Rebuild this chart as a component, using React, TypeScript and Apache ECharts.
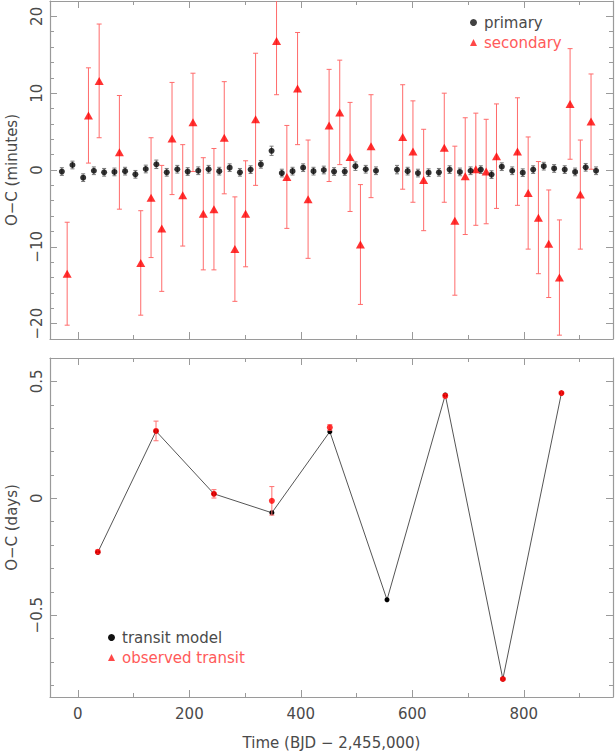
import React, { useEffect, useRef } from 'react';
import * as echarts from 'echarts';

// ---------- top panel: primary eclipses ----------
const primTime = [-28.7, -9.7, 9.5, 28.7, 47.1, 65.6, 84.7, 103.2, 121.8, 140.8, 159.4, 178.4, 197.0, 216.0, 234.6, 253.6, 272.3, 290.7, 309.9, 328.3, 347.5, 365.9, 385.1, 404.1, 422.7, 441.2, 459.6, 478.8, 497.9, 516.4, 534.8, 572.5, 591.6, 610.1, 629.2, 647.7, 666.9, 685.3, 704.5, 722.9, 742.1, 760.5, 779.2, 798.1, 816.8, 835.8, 854.4, 873.4, 892.0, 911.0, 929.6];
const primOC = [-0.2, 0.65, -1.0, -0.1, -0.3, -0.25, -0.15, -0.56, 0.13, 0.74, -0.3, 0.1, -0.2, -0.1, 0.1, -0.15, 0.3, -0.3, 0.05, 0.74, 2.5, -0.4, -0.15, 0.3, -0.15, 0.0, -0.2, -0.2, 0.5, 0.1, -0.1, 0.05, -0.15, -0.4, -0.35, -0.3, 0.05, -0.25, -0.1, 0.05, -0.6, 0.43, -0.1, -0.35, 0.05, 0.5, 0.2, 0.05, -0.25, 0.35, -0.1];
const primErr = [0.5, 0.5, 0.5, 0.5, 0.5, 0.5, 0.5, 0.5, 0.5, 0.55, 0.5, 0.5, 0.5, 0.5, 0.5, 0.5, 0.5, 0.5, 0.5, 0.5, 0.6, 0.5, 0.5, 0.5, 0.5, 0.5, 0.5, 0.5, 0.55, 0.5, 0.5, 0.55, 0.5, 0.5, 0.5, 0.5, 0.5, 0.5, 0.5, 0.5, 0.5, 0.5, 0.5, 0.5, 0.5, 0.5, 0.5, 0.5, 0.5, 0.5, 0.5];

// ---------- top panel: secondary eclipses ----------
const secTime = [-19.2, 19.0, 38.2, 74.5, 112.8, 131.3, 150.5, 168.9, 188.1, 206.5, 225.0, 244.1, 262.6, 281.7, 300.9, 318.8, 356.4, 374.9, 394.1, 413.0, 450.7, 469.8, 488.3, 506.9, 525.9, 582.7, 601.1, 620.3, 657.3, 676.3, 694.9, 713.9, 732.5, 751.0, 788.6, 807.8, 826.2, 844.7, 863.9, 883.0, 901.4, 920.6];
const secOC = [-13.5, 7.1, 11.6, 2.3, -12.1, -3.6, -7.6, 4.1, -3.3, 6.2, -5.7, -5.1, 4.2, -10.3, -5.7, 6.6, 16.8, -0.9, 10.6, -3.8, 5.8, 7.5, 1.7, -9.7, 3.1, 4.3, 2.4, -1.3, 2.9, -6.6, -0.8, 0.1, -0.2, 1.8, 2.4, -3.0, -6.2, -9.6, -14.0, 8.6, -3.2, 6.3];
const secErr = [6.7, 6.2, 7.4, 7.4, 6.8, 7.8, 8.2, 7.3, 6.6, 6.4, 7.3, 7.9, 7.3, 6.8, 6.9, 8.6, 7.0, 6.7, 7.3, 7.7, 7.3, 6.8, 7.1, 7.8, 6.7, 6.8, 6.6, 6.6, 7.1, 9.7, 7.6, 7.3, 6.8, 6.8, 7.0, 7.3, 7.3, 7.0, 7.5, 7.2, 7.1, 6.2];

// ---------- bottom panel ----------
const modelTime = [35.8, 140.2, 244.1, 348.0, 452.0, 554.6, 659.1, 762.4, 867.5];
const modelOC = [-0.231, 0.287, 0.019, -0.062, 0.285, -0.434, 0.442, -0.773, 0.450];
const obsTime = [35.8, 140.2, 244.1, 348.0, 452.0, 659.1, 762.4, 867.5];
const obsOC = [-0.229, 0.288, 0.019, -0.011, 0.303, 0.438, -0.773, 0.450];
const obsErr = [0.008, 0.042, 0.018, 0.061, 0.012, 0.008, 0.005, 0.005];

const X_MIN = -50;
const X_MAX = 960;
const TOP_Y = [-22, 22];
const BOT_Y = [-0.85, 0.6];

const FONT = 'DejaVu Sans';
const TXT = '#4a4a4a';
const FRAME = '#9a9a9a';

const fmtMinus = (s: string) => s.replace('-', '\u2212');

function errRenderer(color: string, cap: number) {
  return (params: any, api: any) => {
    const x = api.value(0);
    const lo = api.value(1);
    const hi = api.value(2);
    const a = api.coord([x, lo]);
    const b = api.coord([x, hi]);
    const st = { stroke: color, lineWidth: 1 };
    return {
      type: 'group',
      children: [
        { type: 'line', shape: { x1: a[0], y1: a[1], x2: b[0], y2: b[1] }, style: st },
        { type: 'line', shape: { x1: a[0] - cap, y1: a[1], x2: a[0] + cap, y2: a[1] }, style: st },
        { type: 'line', shape: { x1: b[0] - cap, y1: b[1], x2: b[0] + cap, y2: b[1] }, style: st },
      ],
    };
  };
}

function labelFmt(step: number) {
  return (v: number) => {
    const r = v / step;
    if (Math.abs(r - Math.round(r)) > 1e-6) return '';
    const val = Math.round(r) * step;
    return fmtMinus(String(Math.round(val * 1000) / 1000));
  };
}

function xAxes(grid: number, showLabels: boolean) {
  const base = {
    type: 'value',
    gridIndex: grid,
    min: X_MIN,
    max: X_MAX,
    splitLine: { show: false },
  };
  const major = {
    ...base,
    splitNumber: 5,
    axisTick: { show: true, inside: true, length: 7, lineStyle: { color: FRAME } },
  };
  const minor = {
    ...base,
    splitNumber: 10,
    axisLine: { show: false, onZero: false },
    axisLabel: { show: false },
    axisTick: { show: true, inside: true, length: 4, lineStyle: { color: FRAME } },
  };
  return [
    {
      ...major,
      position: 'bottom',
      axisLine: { show: true, onZero: false, lineStyle: { color: FRAME, width: 1.2 } },
      axisLabel: showLabels
        ? { show: true, formatter: labelFmt(200), color: TXT, fontFamily: FONT, fontSize: 15, margin: 9 }
        : { show: false },
      name: showLabels ? 'Time (BJD \u2212 2,455,000)' : '',
      nameLocation: 'middle',
      nameGap: 38,
      nameTextStyle: { color: TXT, fontFamily: FONT, fontSize: 15 },
    },
    {
      ...major,
      position: 'top',
      axisLine: { show: true, onZero: false, lineStyle: { color: FRAME, width: 1.2 } },
      axisLabel: { show: false },
    },
    { ...minor, position: 'bottom' },
    { ...minor, position: 'top' },
  ];
}

function yAxes(grid: number, ext: number[], majorSplit: number, minorSplit: number, step: number, name: string) {
  const base = {
    type: 'value',
    gridIndex: grid,
    min: ext[0],
    max: ext[1],
    splitLine: { show: false },
  };
  const major = {
    ...base,
    splitNumber: majorSplit,
    axisLine: { show: true, onZero: false, lineStyle: { color: FRAME, width: 1.2 } },
    axisTick: { show: true, inside: true, length: 7, lineStyle: { color: FRAME } },
  };
  const minor = {
    ...base,
    splitNumber: minorSplit,
    axisLine: { show: false, onZero: false },
    axisLabel: { show: false },
    axisTick: { show: true, inside: true, length: 4, lineStyle: { color: FRAME } },
  };
  return [
    {
      ...major,
      position: 'left',
      axisLabel: { show: true, rotate: 90, formatter: labelFmt(step), color: TXT, fontFamily: FONT, fontSize: 15, margin: 6 },
      name,
      nameLocation: 'middle',
      nameRotate: 90,
      nameGap: 31,
      nameTextStyle: { color: TXT, fontFamily: FONT, fontSize: 15 },
    },
    { ...major, position: 'right', axisLabel: { show: false } },
    { ...minor, position: 'left' },
    { ...minor, position: 'right' },
  ];
}

export default function App() {
  const ref = useRef<HTMLDivElement>(null);

  useEffect(() => {
    if (!ref.current) return;
    const chart = echarts.init(ref.current, undefined, { renderer: 'svg' });

    const primPts = primTime.map((t, i) => [t, primOC[i]]);
    const primBars = primTime.map((t, i) => [t, primOC[i] - primErr[i], primOC[i] + primErr[i]]);
    const secPts = secTime.map((t, i) => [t, secOC[i]]);
    const secBars = secTime.map((t, i) => [t, secOC[i] - secErr[i], secOC[i] + secErr[i]]);
    const modelPts = modelTime.map((t, i) => [t, modelOC[i]]);
    const obsPts = obsTime.map((t, i) => [t, obsOC[i]]);
    const obsBars = obsTime.map((t, i) => [t, obsOC[i] - obsErr[i], obsOC[i] + obsErr[i]]);

    const option: any = {
      animation: false,
      backgroundColor: '#ffffff',
      grid: [
        { left: 50, right: 2, top: 1, height: 338, containLabel: false, outerBoundsMode: 'none' },
        { left: 50, right: 2, top: 358, height: 339, containLabel: false, outerBoundsMode: 'none' },
      ],
      xAxis: [...xAxes(0, false), ...xAxes(1, true)],
      yAxis: [
        ...yAxes(0, TOP_Y, 4, 22, 10, 'O\u2212C (minutes)'),
        ...yAxes(1, BOT_Y, 3, 14, 0.5, 'O\u2212C (days)'),
      ],
      legend: [
        {
          orient: 'vertical',
          left: 465,
          top: 10,
          itemWidth: 7,
          itemHeight: 7,
          itemGap: 5,
          selectedMode: false,
          textStyle: { fontFamily: FONT, fontSize: 15, padding: [0, 0, 0, 2] },
          data: [
            { name: 'primary', icon: 'circle', itemStyle: { color: '#111' }, textStyle: { color: TXT } },
            { name: 'secondary', icon: 'triangle', itemStyle: { color: '#ff1a1a' }, textStyle: { color: '#ff5a5a' } },
          ],
        },
        {
          orient: 'vertical',
          left: 103,
          top: 625,
          itemWidth: 7,
          itemHeight: 7,
          itemGap: 5,
          selectedMode: false,
          textStyle: { fontFamily: FONT, fontSize: 15, padding: [0, 0, 0, 2] },
          data: [
            { name: 'transit model', icon: 'circle', itemStyle: { color: '#111' }, textStyle: { color: TXT } },
            { name: 'observed transit', icon: 'triangle', itemStyle: { color: '#ff1a1a' }, textStyle: { color: '#ff5a5a' } },
          ],
        },
      ],
      series: [
        {
          name: 'secErr',
          type: 'custom',
          xAxisIndex: 0,
          yAxisIndex: 0,
          clip: true,
          renderItem: errRenderer('#ff6b6b', 2.5),
          data: secBars,
          z: 2,
        },
        {
          name: 'primErr',
          type: 'custom',
          xAxisIndex: 0,
          yAxisIndex: 0,
          clip: true,
          renderItem: errRenderer('#777777', 2),
          data: primBars,
          z: 3,
        },
        {
          name: 'secondary',
          type: 'scatter',
          xAxisIndex: 0,
          yAxisIndex: 0,
          symbol: 'triangle',
          symbolSize: [9, 8],
          itemStyle: { color: '#ff0000' },
          data: secPts,
          z: 4,
        },
        {
          name: 'primary',
          type: 'scatter',
          xAxisIndex: 0,
          yAxisIndex: 0,
          symbol: 'circle',
          symbolSize: 6,
          itemStyle: { color: '#000' },
          data: primPts,
          z: 5,
        },
        {
          name: 'transit model',
          type: 'line',
          xAxisIndex: 4,
          yAxisIndex: 4,
          symbol: 'circle',
          symbolSize: 5,
          showSymbol: true,
          lineStyle: { color: '#555', width: 1 },
          itemStyle: { color: '#000' },
          data: modelPts,
          z: 3,
        },
        {
          name: 'obsErr',
          type: 'custom',
          xAxisIndex: 4,
          yAxisIndex: 4,
          clip: true,
          renderItem: errRenderer('#ff7070', 2.5),
          data: obsBars,
          z: 4,
        },
        {
          name: 'observed transit',
          type: 'scatter',
          xAxisIndex: 4,
          yAxisIndex: 4,
          symbol: 'circle',
          symbolSize: 6,
          itemStyle: { color: '#ff0000' },
          data: obsPts,
          z: 5,
        },
      ],
    };

    chart.setOption(option);
    return () => chart.dispose();
  }, []);

  return (
    <div
      ref={ref}
      style={{ position: 'fixed', left: 0, top: 0, width: 615, height: 755, background: '#fff' }}
    />
  );
}
